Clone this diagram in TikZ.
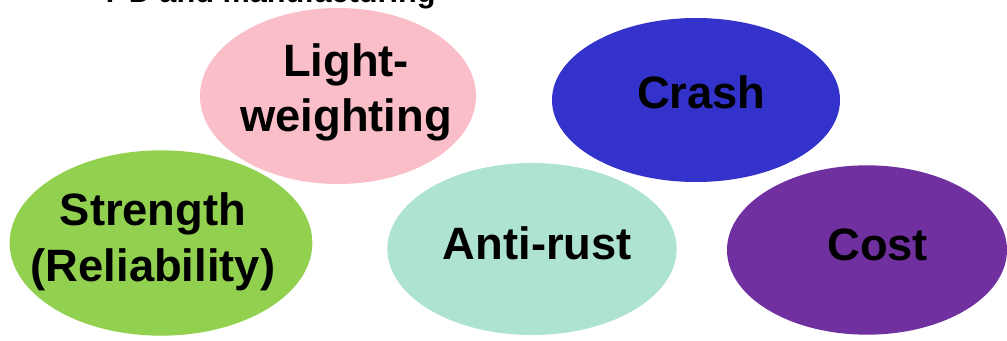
\documentclass[tikz,border=0pt]{standalone}
\usepackage{fontspec}
\setmainfont{Liberation Sans}
\usetikzlibrary{shapes.geometric}
\definecolor{LightPink}{HTML}{FABEC8}
\definecolor{CrashBlue}{HTML}{3333CC}
\definecolor{StrengthGreen}{HTML}{92D050}
\definecolor{RustMint}{HTML}{ADE3CF}
\definecolor{CostPurple}{HTML}{7030A0}
\begin{document}
\begin{tikzpicture}[x=0.75pt, y=-0.75pt,
   blob/.style={ellipse, inner sep=0pt, outer sep=0pt},
   blobtext/.style={align=center, inner sep=0pt, yshift=4pt,
                    font=\fontsize{34}{41.5}\selectfont\bfseries}]
  \clip (0,0) rectangle (1007,340);
  \node[anchor=base west, inner sep=0pt, font=\fontsize{23}{28}\selectfont\bfseries]
    (title) at (103,2) {7 D and manufacturing};
  \node[blob, fill=LightPink, minimum width=207pt, minimum height=132pt,
        label={[blobtext, xshift=6pt, yshift=-1.5pt]center:Light-\\weighting}]      (lw) at (338,96)  {};
  \node[blob, fill=CrashBlue, minimum width=216pt, minimum height=123pt,
        label={[blobtext, xshift=4pt, yshift=2pt]center:Crash}]                  (cr) at (696,100) {};
  \node[blob, fill=StrengthGreen, minimum width=227pt, minimum height=139pt,
        label={[blobtext, xshift=-6pt, yshift=-3pt]center:Strength\\(Reliability)}] (st) at (161,243) {};
  \node[blob, fill=RustMint, minimum width=217pt, minimum height=129pt,
        label={[blobtext, xshift=4pt]center:Anti-rust}]              (ar) at (532,249) {};
  \node[blob, fill=CostPurple, minimum width=210pt, minimum height=127pt,
        label={[blobtext, xshift=8pt]center:Cost}]                   (co) at (867,250) {};
\end{tikzpicture}
\end{document}
